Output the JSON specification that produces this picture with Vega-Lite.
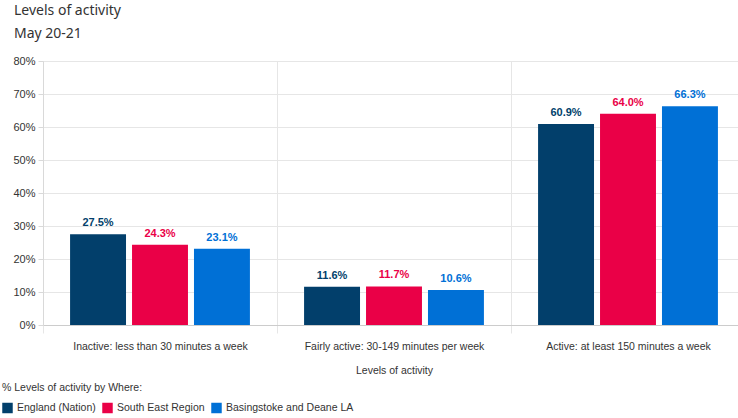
{
  "$schema": "https://vega.github.io/schema/vega-lite/v6.json",
  "width": 702,
  "height": 264,
  "autosize": {"type": "none"},
  "padding": {"left": 43, "top": 61, "right": 0, "bottom": 93},
  "background": "white",
  "title": {
    "text": ["Levels of activity", "May 20-21"],
    "anchor": "start",
    "frame": "group",
    "offset": 14,
    "dx": -29,
    "font": "Noto Sans",
    "fontSize": 14,
    "fontWeight": "normal",
    "color": "#333333",
    "lineHeight": 23
  },
  "data": {
    "values": [
      {"level": "Inactive: less than 30 minutes a week", "where": "England (Nation)", "value": 0.275},
      {"level": "Inactive: less than 30 minutes a week", "where": "South East Region", "value": 0.243},
      {"level": "Inactive: less than 30 minutes a week", "where": "Basingstoke and Deane LA", "value": 0.231},
      {"level": "Fairly active: 30-149 minutes per week", "where": "England (Nation)", "value": 0.116},
      {"level": "Fairly active: 30-149 minutes per week", "where": "South East Region", "value": 0.117},
      {"level": "Fairly active: 30-149 minutes per week", "where": "Basingstoke and Deane LA", "value": 0.106},
      {"level": "Active: at least 150 minutes a week", "where": "England (Nation)", "value": 0.609},
      {"level": "Active: at least 150 minutes a week", "where": "South East Region", "value": 0.640},
      {"level": "Active: at least 150 minutes a week", "where": "Basingstoke and Deane LA", "value": 0.663}
    ]
  },
  "encoding": {
    "x": {
      "field": "level",
      "type": "nominal",
      "sort": null,
      "scale": {"paddingInner": 0, "paddingOuter": 0},
      "axis": {
        "title": "Levels of activity",
        "labelAngle": 0,
        "labelLimit": 0,
        "labelFont": "Liberation Sans",
        "labelFontSize": 10.5,
        "labelColor": "#333333",
        "labelPadding": 8,
        "titleFont": "Liberation Sans",
        "titleFontSize": 10.5,
        "titleFontWeight": "normal",
        "titleColor": "#333333",
        "titlePadding": 14,
        "grid": true,
        "tickBand": "extent",
        "gridColor": "#e6e6e6",
        "domainColor": "#cccccc",
        "tickColor": "#e6e6e6",
        "tickSize": 8
      }
    },
    "xOffset": {
      "field": "where",
      "type": "nominal",
      "sort": ["England (Nation)", "South East Region", "Basingstoke and Deane LA"],
      "scale": {"paddingInner": 0.097, "paddingOuter": 0.437}
    },
    "y": {
      "field": "value",
      "type": "quantitative",
      "scale": {"domain": [0, 0.8]},
      "axis": {
        "title": null,
        "format": ".0%",
        "tickCount": 8,
        "labelFont": "Liberation Sans",
        "labelFontSize": 11,
        "labelColor": "#333333",
        "gridColor": "#e6e6e6",
        "domainColor": "#d9d9d9",
        "tickColor": "#d9d9d9",
        "tickSize": 5,
        "labelPadding": 3
      }
    },
    "color": {
      "field": "where",
      "type": "nominal",
      "sort": ["England (Nation)", "South East Region", "Basingstoke and Deane LA"],
      "scale": {
        "domain": ["England (Nation)", "South East Region", "Basingstoke and Deane LA"],
        "range": ["#023f6b", "#ea0047", "#0070d6"]
      },
      "legend": {
        "orient": "none",
        "legendX": -41,
        "legendY": 322,
        "direction": "horizontal",
        "title": "% Levels of activity by Where:",
        "titleFont": "Liberation Sans",
        "titleFontSize": 10.5,
        "titleFontWeight": "normal",
        "titleColor": "#333333",
        "titlePadding": 9,
        "labelFont": "Liberation Sans",
        "labelFontSize": 10.5,
        "labelColor": "#333333",
        "labelLimit": 0,
        "symbolType": "square",
        "symbolSize": 110,
        "symbolStrokeWidth": 0,
        "labelOffset": 4,
        "columnPadding": 6
      }
    }
  },
  "layer": [
    {"mark": {"type": "bar"}},
    {
      "mark": {"type": "text", "baseline": "bottom", "dy": -6, "font": "Liberation Sans", "fontSize": 11, "fontWeight": "bold"},
      "encoding": {"text": {"field": "value", "type": "quantitative", "format": ".1%"}}
    }
  ]
}
